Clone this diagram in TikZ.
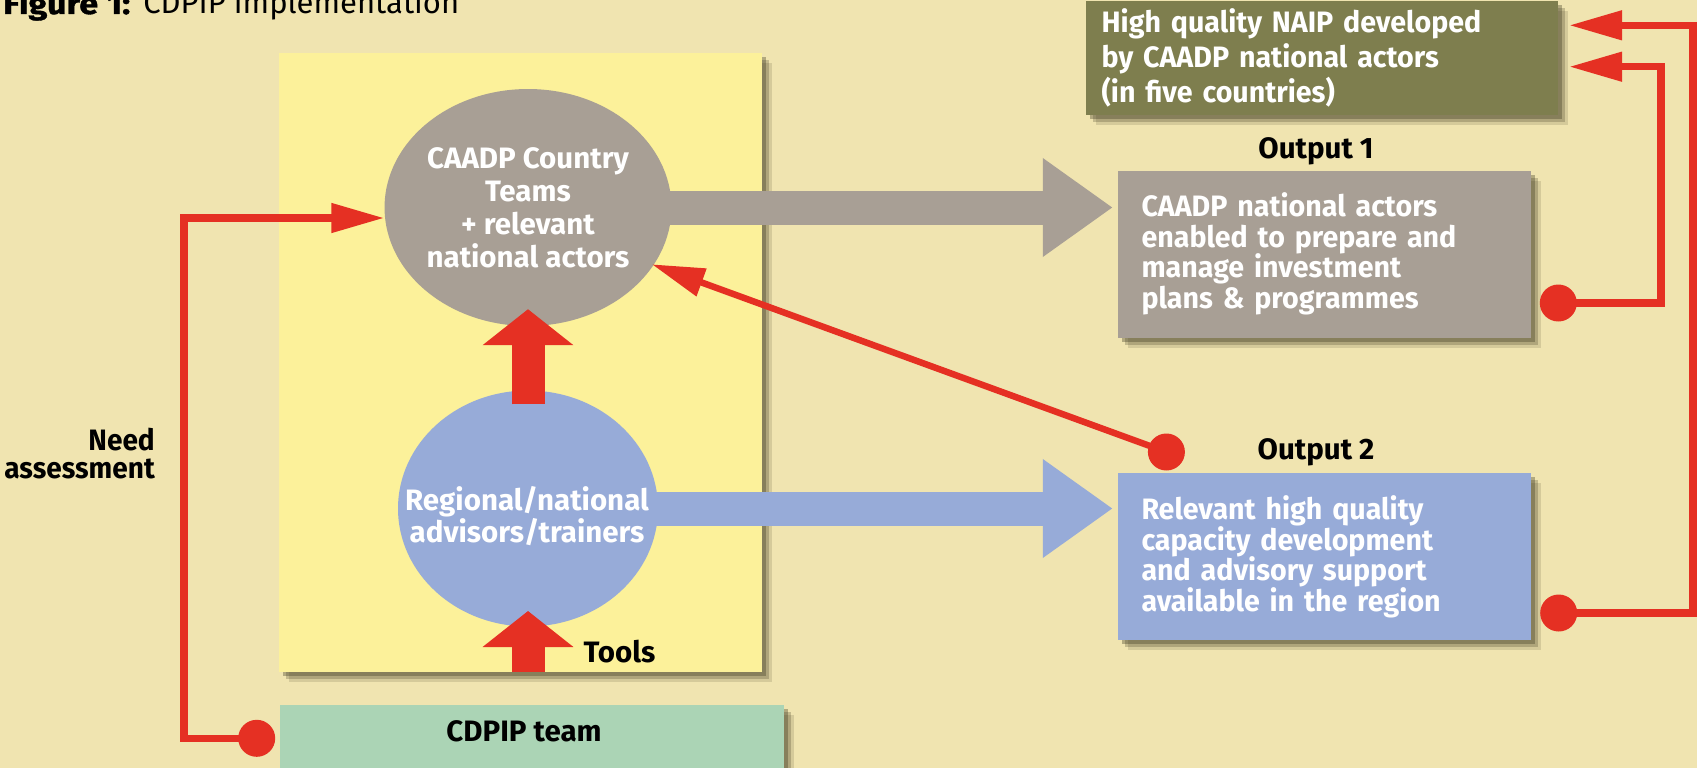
\documentclass[tikz,border=0pt]{standalone}
\usepackage{fontspec}
\setmainfont{Fira Sans}
\usetikzlibrary{shapes.geometric,arrows.meta,calc}
\definecolor{bgc}{RGB}{240,228,176}
\definecolor{ylw}{RGB}{252,241,154}
\definecolor{gry}{RGB}{168,159,149}
\definecolor{blu}{RGB}{151,171,216}
\definecolor{olv}{RGB}{126,126,78}
\definecolor{grn}{RGB}{171,212,181}
\definecolor{rd}{RGB}{229,48,35}
\definecolor{shd}{RGB}{62,58,34}
\tikzset{
  shadowed/.style={
    preaction={fill=shd, fill opacity=0.15, transform canvas={xshift=10pt,yshift=-10pt}},
    preaction={fill=shd, fill opacity=0.25, transform canvas={xshift=7pt,yshift=-7pt}},
    preaction={fill=shd, fill opacity=0.35, transform canvas={xshift=4pt,yshift=-4pt}}},
  lbl/.style={inner sep=0pt, text=black, font=\fontsize{29.5}{30}\selectfont\bfseries},
  outbox/.style={shadowed, rectangle, minimum width=413pt, minimum height=167pt,
    inner xsep=23.5pt, inner ysep=0pt, text width=366pt, align=left, text=white,
    font=\fontsize{29.5}{30.6}\selectfont\bfseries\addfontfeature{FakeStretch=0.97}},
  dot/.style={circle, fill=rd, minimum size=37pt, inner sep=0pt},
  redline/.style={draw=rd, line width=7.5pt, -{Triangle[length=53pt,width=28pt]}},
  fatred/.style={draw=rd, line width=33pt, -{Triangle[length=36pt,width=89pt]}},
  fatarrow/.style={line width=34pt, -{Triangle[length=70pt,width=94pt]}},
}
\begin{document}
\begin{tikzpicture}[x=1pt,y=-1pt]
\useasboundingbox (0,0) rectangle (1697,768);
\fill[bgc] (0,0) rectangle (1697,768);

% title
\node[anchor=base west, inner sep=0pt, font=\fontsize{31}{31}\selectfont] (title) at (3,14)
  {\scalebox{1.14}[1]{\fontsize{30}{30}\selectfont\bfseries\addfontfeature{FakeBold=1.2}Figure 1:}\hspace{13pt}CDPIP implementation};

% main panel and team box
\node[shadowed, rectangle, fill=ylw, minimum width=483.3pt, minimum height=619pt, inner sep=0pt] (panel) at (520.6,362.5) {};
\node[shadowed, rectangle, fill=grn, minimum width=504pt, minimum height=95pt, inner sep=0pt] (cdpip) at (532,752.5) {};
\node[lbl, anchor=base] (cdpiptxt) at (524,741.7) {CDPIP team};

% right boxes
\node[shadowed, rectangle, fill=olv, minimum width=471.3pt, minimum height=114pt,
  inner xsep=15.3pt, inner ysep=0pt, text width=440.7pt, align=left, text=white,
  font=\fontsize{29.5}{34.7}\selectfont\bfseries\addfontfeature{FakeStretch=0.97}] (naip) at (1322,58)
  {High quality NAIP developed\\by CAADP national actors\\(in five countries)};
\node[outbox, fill=gry] (out1) at (1324.5,254)
  {CAADP national actors\\enabled to prepare and\\manage investment\\plans \& programmes};
\node[outbox, fill=blu] (out2) at (1324.5,556.75)
  {Relevant high quality\\capacity development\\and advisory support\\available in the region};
\node[lbl, anchor=base] (o1) at (1316,158.3) {Output 1};
\node[lbl, anchor=base] (o2) at (1316,459) {Output 2};

% ellipses
\node[ellipse, fill=gry, minimum width=260pt, minimum height=237pt, inner sep=0pt,
  align=center, text=white, font=\fontsize{29.5}{33}\selectfont\bfseries] (teams) at (528,207.5)
  {CAADP Country\\Teams\\+ relevant\\national actors};
\node[ellipse, fill=blu, minimum width=260pt, minimum height=236pt, inner sep=0pt] (adv) at (528,508.5) {};
\node[inner sep=0pt, align=center, text=white, font=\fontsize{29.5}{32.3}\selectfont\bfseries] (advtxt) at (527,516)
  {Regional/national\\advisors/trainers};

% fat arrows
\draw[gry, fatarrow] ($(teams.east)+(-8,0)$) -- ($(teams.center -| out1.west)+(-5,0)$);
\draw[blu, fatarrow] ($(adv.east)+(-8,0)$) -- ($(adv.center -| out2.west)+(-5,0)$);
\draw[fatred] ($(adv.north)+(0,14)$) -- ($(teams.south)+(0,-17)$);
\draw[fatred] (panel.south -| adv.south) -- ($(adv.south)+(0,-15.7)$);
\node[lbl, anchor=base west] (tools) at (583.3,662.7) {Tools};

% need assessment
\node[lbl, align=right, anchor=east, font=\fontsize{29.5}{27.3}\selectfont\bfseries\addfontfeature{FakeStretch=0.95}] (need) at (155,453.6) {Need\\assessment};

% dots and red connectors
\node[dot] (dA) at (256.7,738.3) {};
\node[dot] (dB) at (1166.4,452) {};
\node[dot] (dC) at (1558.3,303) {};
\node[dot] (dD) at (1558.7,613) {};
\coordinate (tipA) at (384.4,218);
\coordinate (tipB) at (651.8,264.3);
\coordinate (tipC) at (1569,66.7);
\coordinate (tipD) at (1569,25.3);
\draw[redline] (dA.center) -| (184.2,218) -- (tipA);
\draw[redline, line width=6.5pt] (dB.center) -- (tipB);
\draw[redline] (dC.center) -| (1661,66.7) -- (tipC);
\draw[redline] (dD.center) -| (1693,25.3) -- (tipD);
\end{tikzpicture}
\end{document}
